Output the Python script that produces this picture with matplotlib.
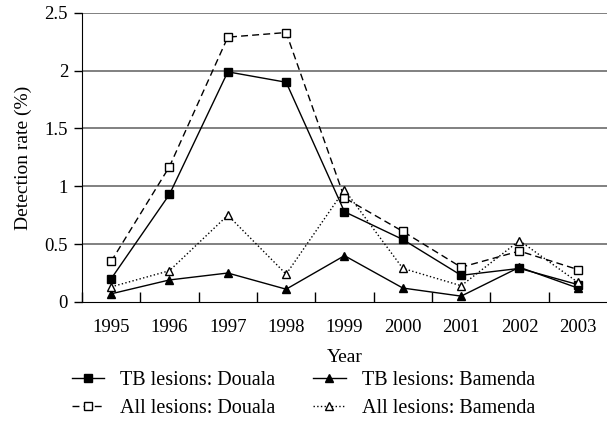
import matplotlib.pyplot as plt

plt.rcParams['font.family'] = ['Liberation Serif', 'DejaVu Serif']

years = [1995, 1996, 1997, 1998, 1999, 2000, 2001, 2002, 2003]
tb_douala = [0.20, 0.93, 1.99, 1.90, 0.78, 0.54, 0.23, 0.29, 0.15]
all_douala = [0.35, 1.17, 2.29, 2.33, 0.90, 0.61, 0.30, 0.44, 0.28]
tb_bamenda = [0.07, 0.19, 0.25, 0.11, 0.40, 0.12, 0.05, 0.30, 0.12]
all_bamenda = [0.13, 0.27, 0.75, 0.24, 0.97, 0.29, 0.14, 0.53, 0.17]

fig = plt.figure(figsize=(6.07, 4.44), dpi=100)
ax = fig.add_axes([0.135, 0.32, 0.865, 0.651])

for v in [0.5, 1, 1.5, 2, 2.5]:
    ax.axhline(v, color='#808080', lw=1.4, zorder=0)

ax.plot(years, tb_douala, 'k-', marker='s', ms=6, lw=1, label='TB lesions: Douala')
ax.plot(years, all_douala, 'k--', marker='s', ms=6, mfc='white', lw=1, dashes=(5, 3), label='All lesions: Douala')
ax.plot(years, tb_bamenda, 'k-', marker='^', ms=6, lw=1, label='TB lesions: Bamenda')
ax.plot(years, all_bamenda, 'k:', marker='^', ms=6, mfc='white', lw=1, label='All lesions: Bamenda')

ax.set_xlim(1994.5, 2003.5)
ax.set_ylim(0, 2.5)
ax.set_yticks([0, 0.5, 1, 1.5, 2, 2.5])
ax.set_yticklabels(['0', '0.5', '1', '1.5', '2', '2.5'])
ax.set_xticks([y + 0.5 for y in years[:-1]] + [1994.5])
ax.set_xticklabels([])
ax.set_xticks(years, minor=True)
ax.set_xticklabels([str(y) for y in years], minor=True)
ax.tick_params(axis='x', which='minor', length=0, pad=12)
ax.tick_params(axis='x', which='major', length=7, direction='in', width=1)
ax.tick_params(axis='y', length=6, direction='out', width=1, pad=4)
ax.tick_params(which='both', labelsize=13.5)

ax.spines['top'].set_visible(False)
ax.spines['right'].set_visible(False)
ax.set_xlabel('Year', fontsize=14, labelpad=10)
ax.set_ylabel('Detection rate (%)', fontsize=14, labelpad=9)

h, l = ax.get_legend_handles_labels()
leg = fig.legend(h, l, ncol=2, loc='upper left',
                 bbox_to_anchor=(0.088, 0.205), frameon=False, fontsize=14.5,
                 columnspacing=1.9, handlelength=1.6, handletextpad=0.8,
                 labelspacing=0.45, markerscale=0.85)

fig.savefig('out.png', dpi=100)
